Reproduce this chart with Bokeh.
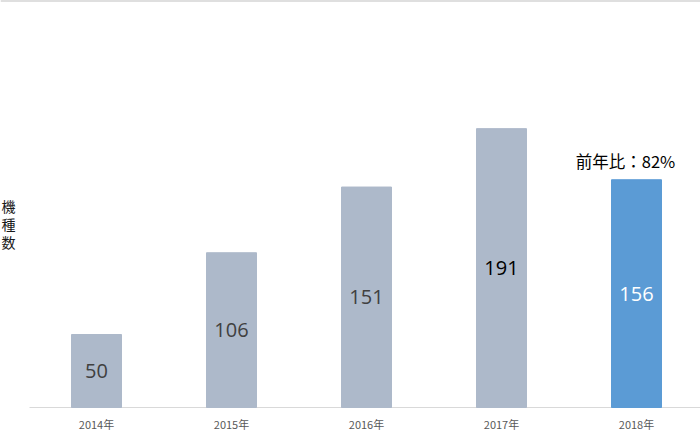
from bokeh.plotting import figure
from bokeh.models import ColumnDataSource, Range1d, FixedTicker, Label, Span
from bokeh.core.properties import value
from bokeh.embed import file_html
from bokeh.resources import INLINE

years = ["2014年", "2015年", "2016年", "2017年", "2018年"]
counts = [50, 106, 151, 191, 156]
bar_colors = ["#ADB9CA", "#ADB9CA", "#ADB9CA", "#ADB9CA", "#5B9BD5"]
label_colors = ["#404040", "#404040", "#404040", "#000000", "#FFFFFF"]
y_title_chars = ["機", "種", "数"]
note_text = "前年比：82%"

xs = list(range(len(years)))
src = ColumnDataSource(dict(
    x=xs, top=counts, color=bar_colors, tcolor=label_colors,
    mid=[c / 2 for c in counts], txt=[str(c) for c in counts],
))

PX = 1.46   # pixels per unit
XSTEP = 135.0
YMAX = 407 / PX
p = figure(width=700, height=439, output_backend="svg", toolbar_location=None,
           x_range=Range1d(-96 / XSTEP, 604 / XSTEP),
           y_range=Range1d(-1 / PX, YMAX),
           min_border_left=0, min_border_right=0, min_border_top=0,
           min_border_bottom=31)
p.outline_line_color = None
p.xgrid.visible = False
p.ygrid.visible = False
p.yaxis.visible = False

# baseline (axis line) starting at the left of the plot area
p.segment(x0=[-67 / XSTEP], y0=[0], x1=[604 / XSTEP], y1=[0],
          line_color="#D9D9D9", line_width=1)

p.vbar(x="x", top="top", bottom=0, width=50 / XSTEP, color="color", source=src)
p.text(x="x", y="mid", text="txt", text_color="tcolor", source=src,
       text_align="center", text_baseline="middle", text_font_size="20px",
       text_font=value("Open Sans"))

ax = p.xaxis[0]
ax.ticker = FixedTicker(ticks=xs)
ax.major_label_overrides = {i: y for i, y in enumerate(years)}
ax.axis_line_color = None
ax.major_tick_line_color = None
ax.major_tick_out = 0
ax.major_tick_in = 0
ax.minor_tick_line_color = None
ax.minor_tick_out = 0
ax.major_label_text_font = "Noto Sans CJK JP"
ax.major_label_text_font_size = "11px"
ax.major_label_text_color = "#595959"
ax.major_label_standoff = 7

p.add_layout(Span(location=YMAX, dimension="width", line_color="#BFBFBF",
                  line_width=2))

p.add_layout(Label(x=4, y=counts[4], x_offset=-11, y_offset=19, text=note_text,
                   text_align="center", text_baseline="middle",
                   text_font="Noto Sans CJK JP", text_font_size="16.5px",
                   text_color="#000000"))

for k, ch in enumerate(y_title_chars):
    p.add_layout(Label(x=-88 / XSTEP, y=(407 - (205 + 18 * k)) / PX, text=ch,
                       text_align="center", text_baseline="middle",
                       text_font="Noto Sans CJK JP", text_font_size="14px",
                       text_color="#1A1A1A"))

open("out.html", "w").write(file_html(p, INLINE))
